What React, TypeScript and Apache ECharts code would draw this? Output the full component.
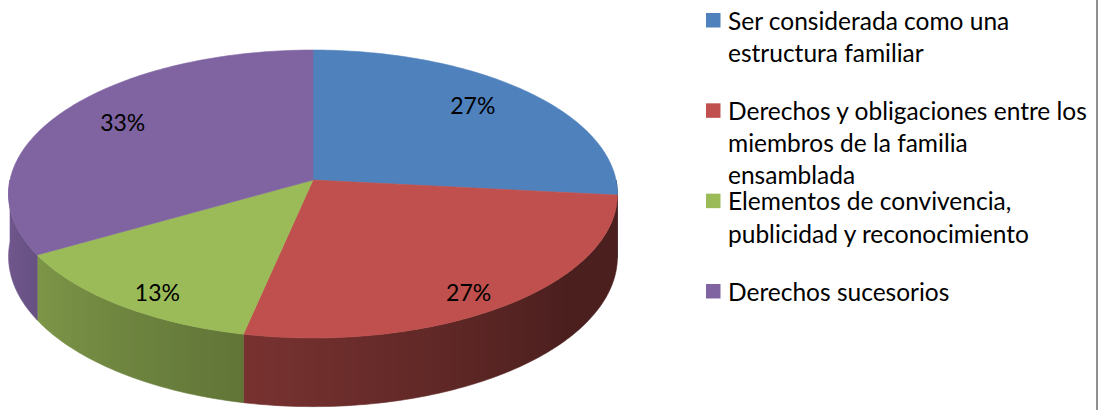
import React, { useEffect, useRef } from "react";
import * as echarts from "echarts";

// ---- data ----
const categories = [
  "Ser considerada como una\nestructura familiar",
  "Derechos y obligaciones entre los\nmiembros de la familia\nensamblada",
  "Elementos de convivencia,\npublicidad y reconocimiento",
  "Derechos sucesorios",
];
const values = [4, 4, 2, 5];
const colors = ["#4F81BD", "#C0504D", "#9BBB59", "#8064A2"];

// ---- geometry of the tilted pie ----
const CX = 313;
const CY = 180;
const RX = 303;
const RY = 142.6;
const PERSP = -0.0972;
const DEPTH = 62;
const FONT = "Lato";
const LEGEND_FS = 24.5;
const LABEL_FS = 23;

function proj(theta: number, r = 1): [number, number, number] {
  const t = (theta * Math.PI) / 180;
  const u = Math.sin(t) * r;
  const v = -Math.cos(t) * r;
  const w = 1 + PERSP * v;
  return [CX + (RX * u) / w, CY + (RY * v) / w, w];
}

function labelPos(theta: number): [number, number] {
  const t = (theta * Math.PI) / 180;
  const u = Math.sin(t);
  const v = -Math.cos(t);
  const w = 1 - 0.139 * v;
  return [CX + (235 * u) / w, CY + (123 * v) / w];
}

function shade(hex: string, theta: number): string {
  let f = 0.385 + 0.0037 * (theta - 127);
  f = Math.max(0.385, Math.min(0.88, f));
  const n = parseInt(hex.slice(1), 16);
  const r = Math.round(((n >> 16) & 255) * f);
  const g = Math.round(((n >> 8) & 255) * f);
  const b = Math.round((n & 255) * f);
  return `rgb(${r},${g},${b})`;
}

export default function App() {
  const ref = useRef<HTMLDivElement>(null);
  useEffect(() => {
    const chart = echarts.init(ref.current!, null, { renderer: "svg" });
    const total = values.reduce((a, b) => a + b, 0);

    const legendEls: any[] = [];
    categories.forEach((name, i) => {
      const top = 13 + i * 90.33;
      legendEls.push({
        type: "rect",
        shape: { x: 706, y: top, width: 14.5, height: 14.5 },
        style: { fill: colors[i] },
      });
      name.split("\n").forEach((line, li) => {
        const baseline = top + 14.5 + li * 32.2;
        legendEls.push({
          type: "text",
          x: 728,
          y: baseline - 0.3 * LEGEND_FS,
          style: {
            text: line,
            font: `${LEGEND_FS}px ${FONT}`,
            fill: "#000",
            verticalAlign: "middle",
            align: "left",
          },
        });
      });
    });
    legendEls.push({
      type: "rect",
      shape: { x: 1096, y: 0, width: 2, height: 410 },
      style: { fill: "#8f8f8f" },
    });

    chart.setOption({
      animation: false,
      backgroundColor: "#ffffff",
      series: [
        {
          type: "custom",
          coordinateSystem: "none",
          data: values.map((v, i) => ({ name: categories[i], value: v })),
          renderItem: (params: any, api: any) => {
            const i = params.dataIndex;
            const val = api.value(0);
            let start = 0;
            for (let k = 0; k < i; k++) start += values[k];
            const a0 = (start / total) * 360;
            const a1 = ((start + val) / total) * 360;
            const children: any[] = [];

            // top face
            const pts: number[][] = [[CX, CY]];
            const n = Math.max(2, Math.ceil(a1 - a0));
            for (let j = 0; j <= n; j++) {
              const p = proj(a0 + ((a1 - a0) * j) / n);
              pts.push([p[0], p[1]]);
            }
            children.push({
              type: "polygon",
              shape: { points: pts },
              style: { fill: colors[i], stroke: colors[i], lineWidth: 0.6 },
              z2: 100,
            });

            // visible side
            const s = Math.max(a0, 90);
            const e = Math.min(a1, 270);
            if (e > s) {
              const topPts: number[][] = [];
              const botPts: number[][] = [];
              const m = Math.max(2, Math.ceil(e - s));
              const samples: { x: number; c: string }[] = [];
              for (let j = 0; j <= m; j++) {
                const th = s + ((e - s) * j) / m;
                const p = proj(th);
                topPts.push([p[0], p[1]]);
                botPts.push([p[0], p[1] + DEPTH / p[2]]);
                samples.push({ x: p[0], c: shade(colors[i], th) });
              }
              const xs = samples.map((q) => q.x);
              const xmin = Math.min(...xs);
              const xmax = Math.max(...xs);
              const span = Math.max(xmax - xmin, 0.001);
              const stops = samples
                .map((q) => ({ offset: (q.x - xmin) / span, color: q.c }))
                .sort((a, b) => a.offset - b.offset);
              const grad = new echarts.graphic.LinearGradient(0, 0, 1, 0, stops);
              children.push({
                type: "polygon",
                shape: { points: topPts.concat(botPts.reverse()) },
                style: { fill: grad, stroke: grad, lineWidth: 0.6 },
                z2: 10,
              });
            }

            // percentage label
            const lp = labelPos((a0 + a1) / 2);
            children.push({
              type: "text",
              x: lp[0],
              y: lp[1],
              style: {
                text: Math.round((val / total) * 100) + "%",
                font: `${LABEL_FS}px ${FONT}`,
                fill: "#000",
                align: "center",
                verticalAlign: "middle",
              },
              z2: 200,
            });

            return { type: "group", children };
          },
        },
      ],
      graphic: legendEls,
    });
    return () => chart.dispose();
  }, []);
  return (
    <div
      ref={ref}
      style={{
        position: "fixed",
        left: 0,
        top: 0,
        width: 1102,
        height: 410,
        background: "#fff",
      }}
    />
  );
}
